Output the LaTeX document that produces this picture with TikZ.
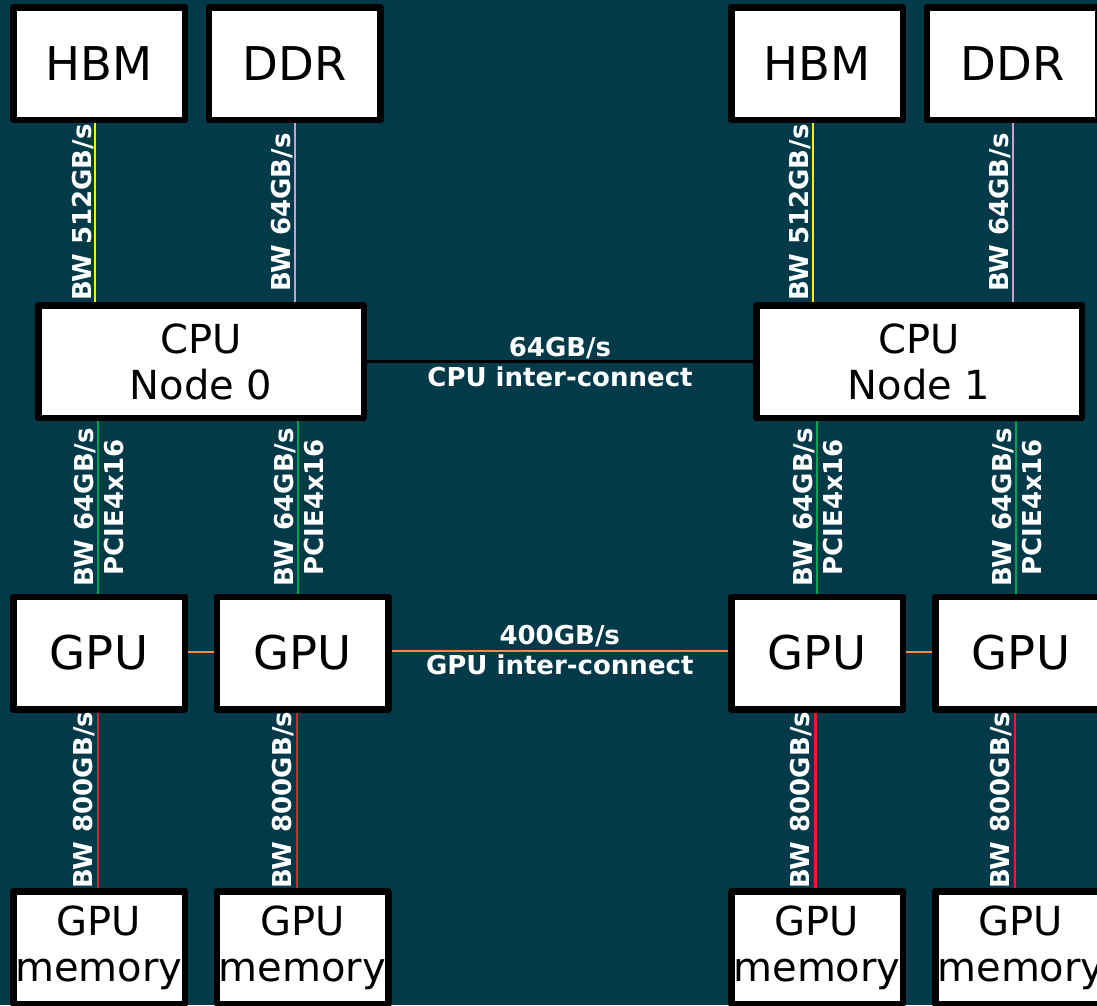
\documentclass[tikz,border=0pt]{standalone}
\usepackage{fontspec}
\setmainfont{DejaVu Sans}
\usetikzlibrary{calc}
\pgfdeclarelayer{bg}
\pgfdeclarelayer{edges}
\pgfsetlayers{bg,edges,main}
\definecolor{bgc}{RGB}{2,58,74}
\definecolor{yel}{RGB}{255,240,0}
\definecolor{lav}{RGB}{200,160,210}
\definecolor{grn}{RGB}{0,165,80}
\definecolor{redl}{RGB}{230,30,40}
\definecolor{org}{RGB}{240,140,60}
\begin{document}
\begin{tikzpicture}[x=1pt,y=-1pt,
  box/.style={draw=black, fill=white, line width=6.5pt, line join=round, inner sep=0pt,
    minimum width=171.5pt, minimum height=112.5pt, font=\fontsize{46.5}{54}\selectfont},
  wbox/.style={box, minimum width=325.5pt},
  two/.style={align=center, font=\fontsize{40}{46}\selectfont},
  lbl/.style={text=white, inner sep=0pt, font=\fontsize{26}{30}\selectfont\bfseries},
  vlbl/.style={lbl, rotate=90, anchor=base},
  conn/.style={line width=2.5pt}]
\useasboundingbox (0,0) rectangle (1097,1005);
\begin{pgfonlayer}{bg}
\fill[bgc] (0,0) rectangle (1097,1005);
\end{pgfonlayer}

% nodes
\node[box] (hbm0) at (99,63.5) {HBM};
\node[box] (ddr0) at (294.5,63.5) {DDR};
\node[box] (hbm1) at (817,63.5) {HBM};
\node[box] (ddr1) at (1012.5,63.5) {DDR};
\node[wbox,two] (cpu0) at (201,361.5) {CPU\\Node 0};
\node[wbox,two] (cpu1) at (919,361.5) {CPU\\Node 1};
\node[box] (gpu0a) at (99,653) {GPU};
\node[box] (gpu0b) at (302.5,653) {GPU};
\node[box] (gpu1a) at (817,653) {GPU};
\node[box] (gpu1b) at (1021,653) {GPU};
\node[box,two] (mem0a) at (99,947.5) {GPU\\memory};
\node[box,two] (mem0b) at (302.5,947.5) {GPU\\memory};
\node[box,two] (mem1a) at (817,947.5) {GPU\\memory};
\node[box,two] (mem1b) at (1021,947.5) {GPU\\memory};

% connector end points
\coordinate (h0t) at ([xshift=-4pt]hbm0.south);   \coordinate (h0b) at (h0t |- cpu0.north);
\coordinate (d0t) at ([xshift=0.5pt]ddr0.south);  \coordinate (d0b) at (d0t |- cpu0.north);
\coordinate (h1t) at ([xshift=-4pt]hbm1.south);   \coordinate (h1b) at (h1t |- cpu1.north);
\coordinate (d1t) at ([xshift=0.5pt]ddr1.south);  \coordinate (d1b) at (d1t |- cpu1.north);

\coordinate (p0ab) at ([xshift=-1pt]gpu0a.north);   \coordinate (p0at) at (p0ab |- cpu0.south);
\coordinate (p0bb) at ([xshift=-4.5pt]gpu0b.north); \coordinate (p0bt) at (p0bb |- cpu0.south);
\coordinate (p1ab) at ([xshift=0pt]gpu1a.north);    \coordinate (p1at) at (p1ab |- cpu1.south);
\coordinate (p1bb) at ([xshift=-5pt]gpu1b.north);   \coordinate (p1bt) at (p1bb |- cpu1.south);

\coordinate (m0at) at ([xshift=-1pt]gpu0a.south);   \coordinate (m0ab) at (m0at |- mem0a.north);
\coordinate (m0bt) at ([xshift=-5.5pt]gpu0b.south); \coordinate (m0bb) at (m0bt |- mem0b.north);
\coordinate (m1at) at ([xshift=-1.5pt]gpu1a.south); \coordinate (m1ab) at (m1at |- mem1a.north);
\coordinate (m1bt) at ([xshift=-6pt]gpu1b.south);   \coordinate (m1bb) at (m1bt |- mem1b.north);

\begin{pgfonlayer}{edges}
\draw[conn,yel] (h0t) -- (h0b);
\draw[conn,lav] (d0t) -- (d0b);
\draw[conn,yel] (h1t) -- (h1b);
\draw[conn,lav] (d1t) -- (d1b);
\draw[conn,black] (cpu0.east) -- (cpu1.west);
\draw[conn,grn] (p0at) -- (p0ab);
\draw[conn,grn] (p0bt) -- (p0bb);
\draw[conn,grn] (p1at) -- (p1ab);
\draw[conn,grn] (p1bt) -- (p1bb);
\draw[conn,org] ([yshift=1pt]gpu0a.east) -- ([yshift=1pt]gpu0b.west);
\draw[conn,org] ([yshift=2pt]gpu0b.east) -- ([yshift=2pt]gpu1a.west);
\draw[conn,org] ([yshift=1pt]gpu1a.east) -- ([yshift=1pt]gpu1b.west);
\draw[conn,redl] (m0at) -- (m0ab);
\draw[conn,redl] (m0bt) -- (m0bb);
\draw[conn,redl] (m1at) -- (m1ab);
\draw[conn,redl] (m1bt) -- (m1bb);
\end{pgfonlayer}

% labels
\node[vlbl] (lh0) at ($(h0t)!0.5!(h0b)+(-3.5,0)$) {BW 512GB/s};
\node[vlbl] (ld0) at ($(d0t)!0.5!(d0b)+(-4.5,0)$) {BW 64GB/s};
\node[vlbl] (lh1) at ($(h1t)!0.5!(h1b)+(-4.5,0)$) {BW 512GB/s};
\node[vlbl] (ld1) at ($(d1t)!0.5!(d1b)+(-4.5,0)$) {BW 64GB/s};

\node[vlbl] (lp0a) at ($(p0at)!0.5!(p0ab)+(-4.5,0)$) {BW 64GB/s};
\node[vlbl] (lq0a) at ($(p0at)!0.5!(p0ab)+(25,0)$) {PCIE4x16};
\node[vlbl] (lp0b) at ($(p0bt)!0.5!(p0bb)+(-4.5,0)$) {BW 64GB/s};
\node[vlbl] (lq0b) at ($(p0bt)!0.5!(p0bb)+(25,0)$) {PCIE4x16};
\node[vlbl] (lp1a) at ($(p1at)!0.5!(p1ab)+(-4.5,0)$) {BW 64GB/s};
\node[vlbl] (lq1a) at ($(p1at)!0.5!(p1ab)+(25,0)$) {PCIE4x16};
\node[vlbl] (lp1b) at ($(p1bt)!0.5!(p1bb)+(-4.5,0)$) {BW 64GB/s};
\node[vlbl] (lq1b) at ($(p1bt)!0.5!(p1bb)+(25,0)$) {PCIE4x16};

\node[vlbl] (lm0a) at ($(m0at)!0.5!(m0ab)+(-6,0)$) {BW 800GB/s};
\node[vlbl] (lm0b) at ($(m0bt)!0.5!(m0bb)+(-6,0)$) {BW 800GB/s};
\node[vlbl] (lm1a) at ($(m1at)!0.5!(m1ab)+(-6,0)$) {BW 800GB/s};
\node[vlbl] (lm1b) at ($(m1bt)!0.5!(m1bb)+(-6,0)$) {BW 800GB/s};

\node[lbl, align=center] (lcpu) at ($(cpu0.east)!0.5!(cpu1.west)+(0,1)$) {64GB/s\\CPU inter-connect};
\node[lbl, align=center] (lgpu) at ($(gpu0b.east)!0.5!(gpu1a.west)+(0,-3)$) {400GB/s\\GPU inter-connect};
\end{tikzpicture}
\end{document}
